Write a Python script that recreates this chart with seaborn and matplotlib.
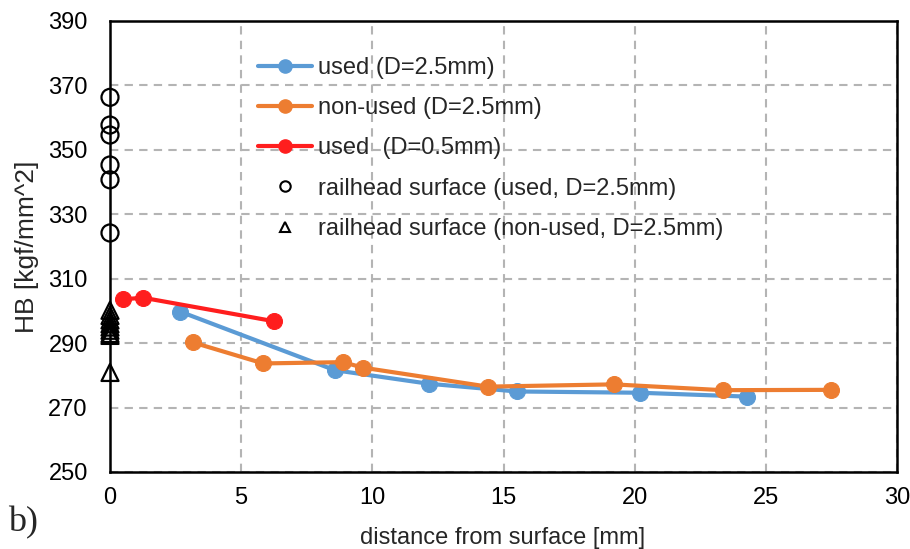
import matplotlib
matplotlib.use('Agg')
import matplotlib.pyplot as plt
from matplotlib.lines import Line2D
import seaborn as sns
import pandas as pd

# data
used_x = [2.67, 8.57, 12.15, 15.5, 20.2, 24.3]
used_hb = [299.8, 281.6, 277.4, 275.0, 274.6, 273.4]

nonused_x = [3.17, 5.84, 8.88, 9.64, 14.4, 19.2, 23.35, 27.5]
nonused_hb = [290.2, 283.7, 284.1, 282.4, 276.5, 277.2, 275.4, 275.5]

used05_x = [0.5, 1.26, 6.25]
used05_hb = [303.6, 304.1, 296.8]

surf_used_hb = [366.3, 357.7, 354.6, 345.3, 340.7, 324.2]
surf_nonused_hb = [300.2, 298.6, 297.2, 296.0, 295.0, 294.0, 293.0, 292.4, 280.9]

labels = ['used (D=2.5mm)', 'non-used (D=2.5mm)', 'used  (D=0.5mm)',
          'railhead surface (used, D=2.5mm)', 'railhead surface (non-used, D=2.5mm)']
colors = ['#5B9BD5', '#ED7D31', '#FF1E1E']

sns.set_style('white')
plt.rcParams['font.family'] = ['Liberation Sans', 'DejaVu Sans']
fs = 17

fig = plt.figure(figsize=(9.1, 5.49), dpi=100)
ax = fig.add_axes([110 / 910, 1 - 472 / 549, 787 / 910, 451 / 549])

series = [(used_x, used_hb), (nonused_x, nonused_hb), (used05_x, used05_hb)]
for (xs, ys), c in zip(series, colors):
    df = pd.DataFrame({'x': xs, 'y': ys})
    sns.lineplot(data=df, x='x', y='y', ax=ax, color=c, linewidth=3,
                 marker='o', markersize=11.5, markeredgecolor=c, sort=False, zorder=3)

df_su = pd.DataFrame({'x': [0] * len(surf_used_hb), 'y': surf_used_hb})
df_sn = pd.DataFrame({'x': [0] * len(surf_nonused_hb), 'y': surf_nonused_hb})
sns.scatterplot(data=df_su, x='x', y='y', ax=ax, marker='o', s=150,
                facecolor='none', edgecolor='black', linewidth=1.6, clip_on=False, zorder=4)
sns.scatterplot(data=df_sn, x='x', y='y', ax=ax, marker='^', s=150,
                facecolor='none', edgecolor='black', linewidth=1.6, clip_on=False, zorder=4)

ax.set_xlim(0, 30)
ax.set_ylim(250, 390)
ax.set_xticks(range(0, 31, 5))
ax.set_yticks(range(250, 391, 20))
ax.grid(True, color='#B4B4B4', linestyle=(0, (4, 3)), linewidth=1.5)
ax.set_axisbelow(True)
for sp in ax.spines.values():
    sp.set_color('black')
    sp.set_linewidth(1.8)
    sp.set_visible(True)
ax.tick_params(axis='both', length=0, labelsize=fs, colors='black')
ax.tick_params(axis='y', pad=16)
ax.tick_params(axis='x', pad=11)
ax.set_xlabel('')
ax.set_ylabel('')

fig.text(27 / 910, 1 - 247 / 549, 'HB [kgf/mm^2]', rotation=90, ha='center', va='center', fontsize=19)
fig.text(503 / 910, 1 - 538 / 549, 'distance from surface [mm]', ha='center', va='center', fontsize=fs)
fig.text(8 / 910, 1 - 523 / 549, 'b)', ha='left', va='center', fontsize=26,
         family=['Liberation Serif', 'DejaVu Serif'])

handles = [Line2D([], [], color=c, lw=3, marker='o', markersize=9.5) for c in colors]
handles.append(Line2D([], [], ls='none', marker='o', markersize=7.5, mfc='none', mec='black', mew=1.5))
handles.append(Line2D([], [], ls='none', marker='^', markersize=7.5, mfc='none', mec='black', mew=1.5))
ax.legend(handles, labels, loc='upper left', bbox_to_anchor=(0.188, 0.920), frameon=False,
          fontsize=fs, handlelength=2.3, handletextpad=0.25, labelspacing=0.77,
          borderpad=0, borderaxespad=0)

fig.savefig('out.png', dpi=100)
